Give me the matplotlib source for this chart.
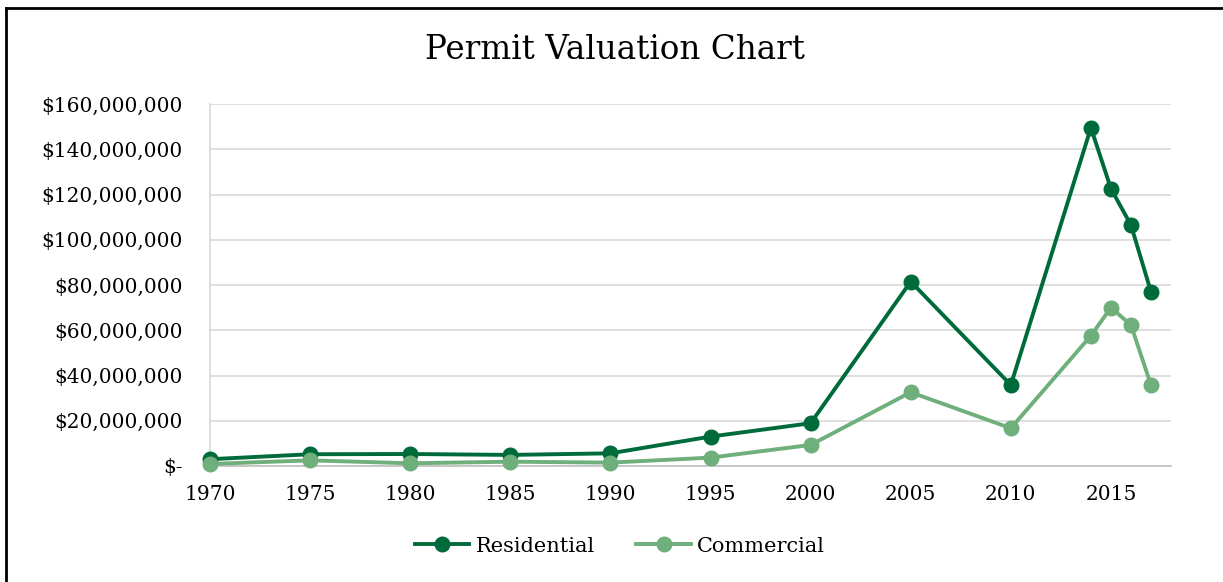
import matplotlib.pyplot as plt
from matplotlib.lines import Line2D
from matplotlib.ticker import FuncFormatter

# data (values in dollars)
years = [1970, 1975, 1980, 1985, 1990, 1995, 2000, 2005, 2010, 2014, 2015, 2016, 2017]
residential = [3.0e6, 5.2e6, 5.3e6, 4.9e6, 5.6e6, 13.0e6, 18.9e6, 81.5e6, 35.8e6,
               149.5e6, 122.6e6, 106.5e6, 77.0e6]
commercial = [0.9e6, 2.5e6, 1.2e6, 1.9e6, 1.5e6, 3.7e6, 9.3e6, 32.6e6, 16.7e6,
              57.6e6, 70.0e6, 62.3e6, 35.8e6]
x_ticks = list(range(1970, 2016, 5))
y_ticks = list(range(0, 160_000_001, 20_000_000))

DARK = '#006B3A'
LIGHT = '#6FAF7C'
FONT = 'DejaVu Serif'

plt.rcParams['font.family'] = FONT

fig = plt.figure(figsize=(12.23, 5.82), dpi=100)
fig.patch.set_facecolor('white')
ax = fig.add_axes([210 / 1223, 1 - 466 / 582, 961 / 1223, 362 / 582])

ax.plot(years, residential, color=DARK, lw=2.8, marker='o', ms=10.5,
        label='Residential', zorder=3, clip_on=False)
ax.plot(years, commercial, color=LIGHT, lw=2.8, marker='o', ms=10.5,
        label='Commercial', zorder=3, clip_on=False)

ax.set_xlim(1970, 2018)
ax.set_ylim(0, 160_000_000)
ax.set_xticks(x_ticks)
ax.set_yticks(y_ticks)


def money(v, pos):
    if v == 0:
        return '$-'
    return '${:,.0f}'.format(v)


ax.yaxis.set_major_formatter(FuncFormatter(money))
ax.tick_params(axis='both', length=0, labelsize=14.5, colors='black')
ax.tick_params(axis='y', pad=19.5)
ax.tick_params(axis='x', pad=14)
ax.grid(axis='y', color='#D9D9D9', lw=1.2)
ax.set_axisbelow(True)
for s in ['top', 'right']:
    ax.spines[s].set_visible(False)
ax.spines['left'].set_color('#D9D9D9')
ax.spines['bottom'].set_color('#BFBFBF')
ax.spines['left'].set_linewidth(1.2)
ax.spines['bottom'].set_linewidth(1.2)

fig.text(615 / 1223, 1 - 50 / 582, 'Permit Valuation Chart', ha='center', va='center',
         fontsize=23.5, family=FONT)

fig.legend(loc='center', bbox_to_anchor=(620 / 1223, 1 - 546 / 582), ncol=2,
           frameon=False, fontsize=15, handlelength=2.6, columnspacing=2.0,
           handletextpad=0.3)

# partial chart frame (left and top edges)
fig.add_artist(Line2D([6 / 1223, 6 / 1223], [0, 1 - 8 / 582], transform=fig.transFigure,
                      color='black', lw=2))
fig.add_artist(Line2D([6 / 1223, 1], [1 - 8 / 582, 1 - 8 / 582], transform=fig.transFigure,
                      color='black', lw=2))

fig.savefig('out.png', dpi=100, facecolor='white')
